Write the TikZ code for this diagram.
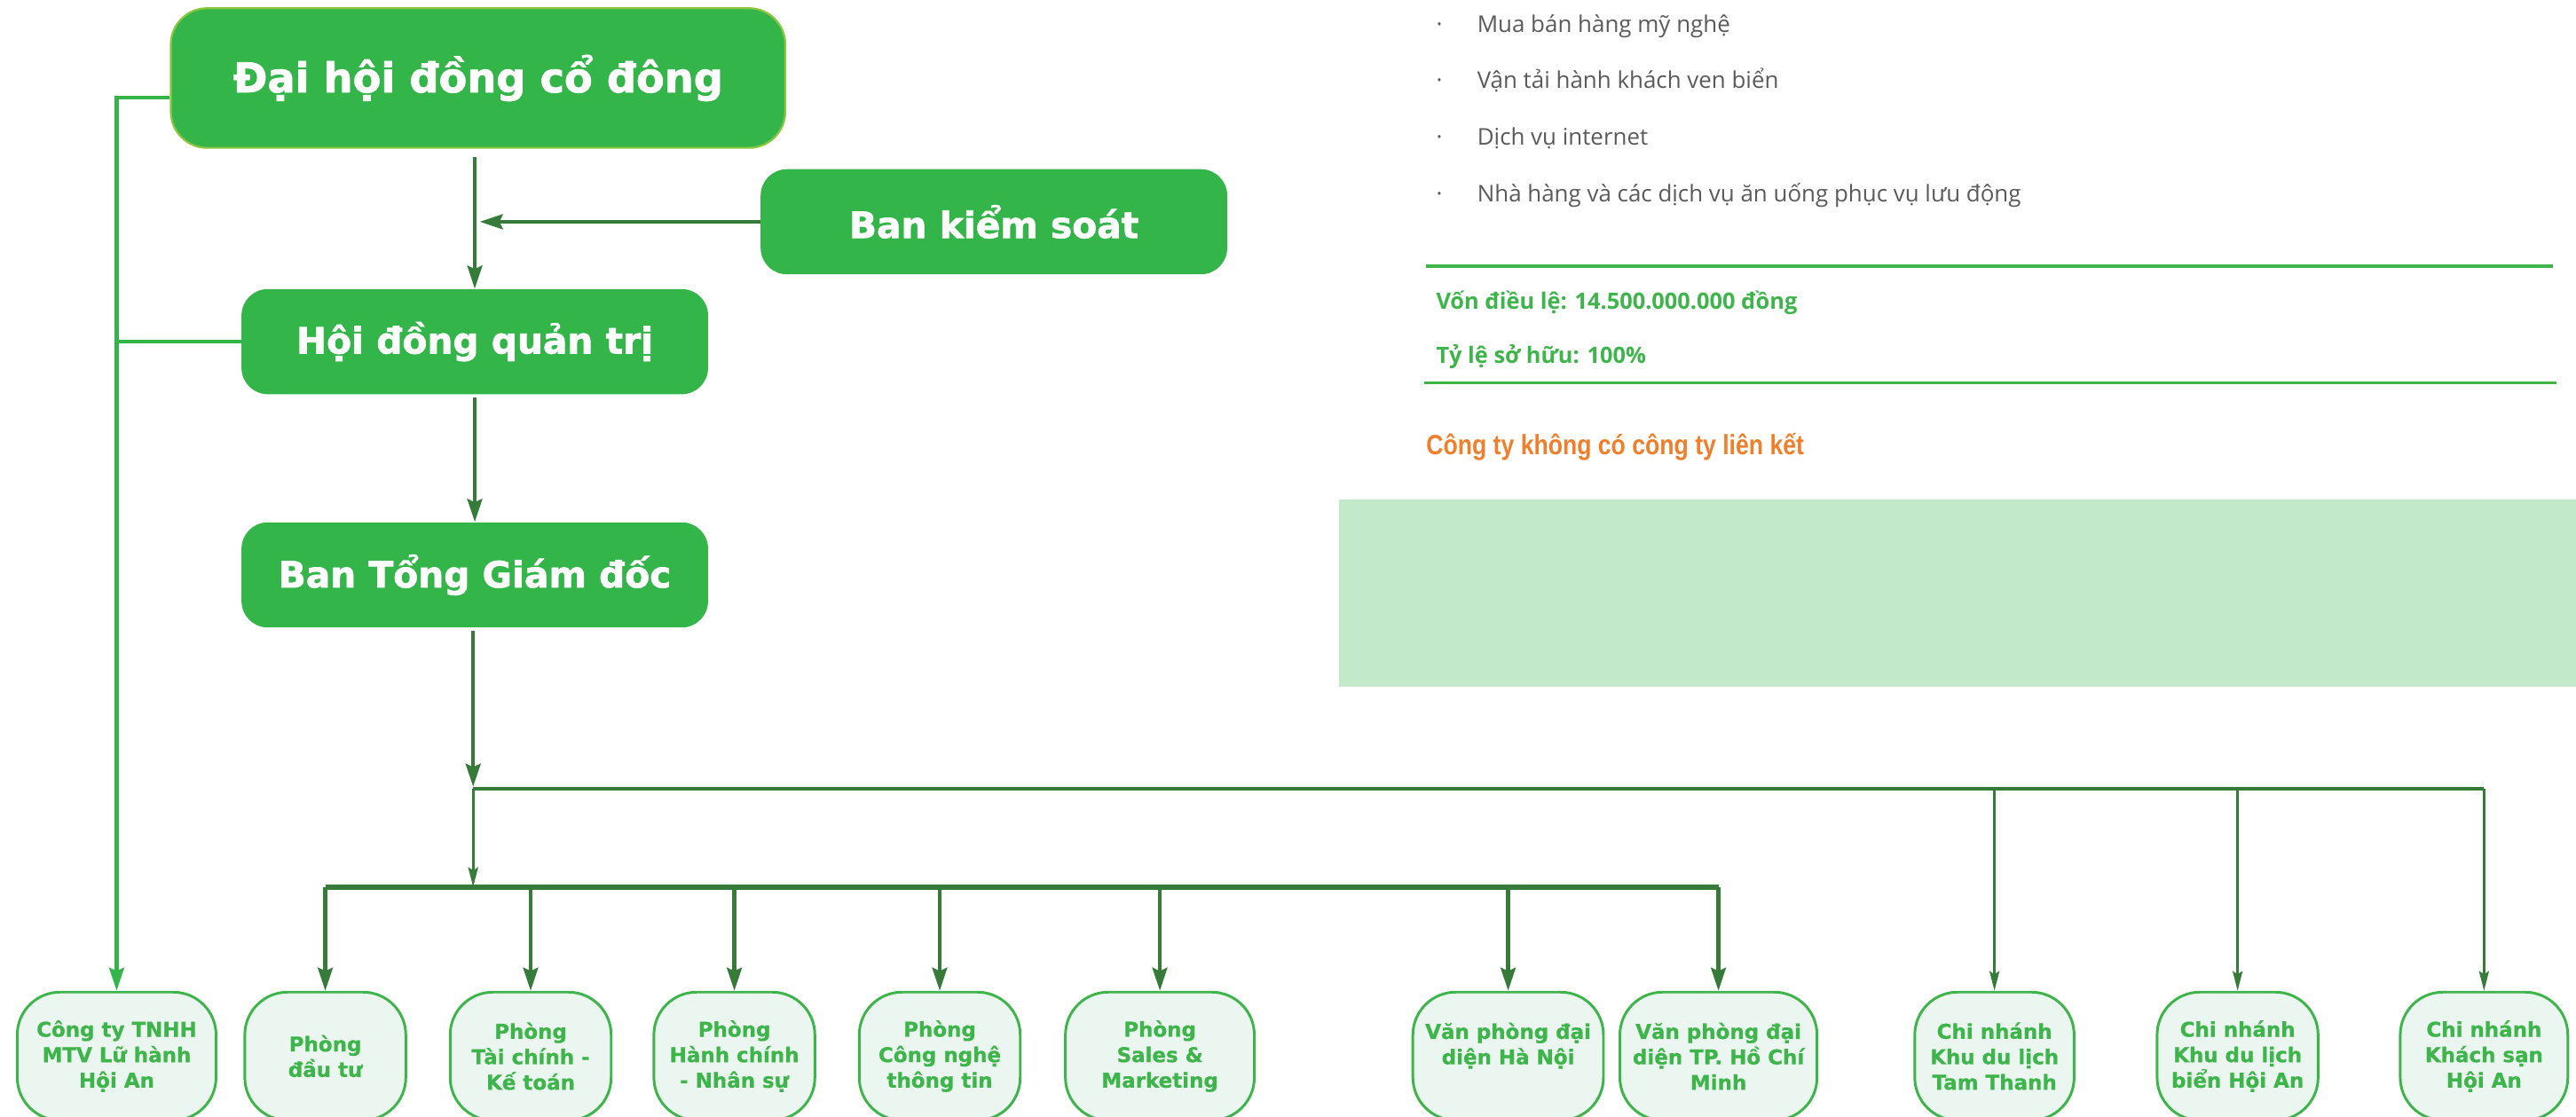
\documentclass[tikz,border=0pt]{standalone}
\usepackage{fontspec}
\setmainfont{DejaVu Sans}
\newfontfamily\heavyfont{DejaVu Sans}[UprightFont={* Bold}, FakeBold=1.6]
\newfontfamily\medfont{DejaVu Sans}[UprightFont={* Bold}, FakeBold=0.6]
\newfontfamily\listfont{Open Sans}
\newfontfamily\arialfont{Liberation Sans}
\usetikzlibrary{arrows.meta,calc}
\definecolor{gfill}{HTML}{33B54A}
\definecolor{gdark}{HTML}{367B3A}
\definecolor{gedge}{HTML}{8DC63F}
\definecolor{lfill}{HTML}{EBF6F0}
\definecolor{lborder}{HTML}{3DB54A}
\definecolor{panel}{HTML}{C2E9CA}
\definecolor{orangetxt}{HTML}{F07E2A}
\definecolor{graytxt}{HTML}{5A5A5A}
\begin{document}
\begin{tikzpicture}[x=1pt,y=-1pt,
  topbox/.style={fill=gfill, rounded corners=16pt, text=white, inner sep=0pt,
    font=\heavyfont\fontsize{22}{26}\selectfont, minimum width=284pt, minimum height=64pt},
  botbox/.style={fill=lfill, draw=lborder, line width=1.6pt, rounded corners=26pt,
    text=lborder, font=\medfont\fontsize{12.4}{15.5}\selectfont, align=center,
    inner sep=0pt, minimum height=78pt},
  conn/.style={draw=gdark, line width=2.4pt},
  thinconn/.style={draw=gdark, line width=1.5pt},
  bigtip/.style={-{Stealth[length=14pt,width=9pt,inset=2pt]}},
  smalltip/.style={-{Stealth[length=12pt,width=6pt,inset=2pt]}},
  listtxt/.style={anchor=base west, inner sep=0pt, text=graytxt, font=\listfont\fontsize{14}{16}\selectfont},
  infotxt/.style={anchor=base west, inner sep=0pt, text=lborder, font=\listfont\bfseries\fontsize{13.7}{16}\selectfont},
]
\useasboundingbox (0,0) rectangle (1568,680);
\clip (0,0) rectangle (1568,680);

% right panel
\fill[panel] (815,304) rectangle (1568,418);
\draw[lborder, line width=2pt] (868,162) -- (1554,162);
\draw[lborder, line width=2pt] (867,233) -- (1556,233);

\foreach \y/\n in {19.5/1,54/2,88.5/3,123/4}{
  \node[listtxt] (bul\n) at (874,\y) {·};
}
\node[listtxt] (l1) at (899,19.5) {Mua bán hàng mỹ nghệ};
\node[listtxt] (l2) at (899,54) {Vận tải hành khách ven biển};
\node[listtxt] (l3) at (899,88.5) {Dịch vụ internet};
\node[listtxt] (l4) at (899,123) {Nhà hàng và các dịch vụ ăn uống phục vụ lưu động};
\node[infotxt] (von) at (874,188) {Vốn điều lệ: 14.500.000.000 đồng};
\node[infotxt] (tyle) at (874,221) {Tỷ lệ sở hữu: 100\%};
\node[anchor=base west, inner sep=0pt, text=orangetxt, font=\arialfont\bfseries\fontsize{17}{20}\selectfont]
  (nolink) at (868,277) {\scalebox{0.845}[1]{Công ty không có công ty liên kết}};

% top boxes
\node[topbox, minimum width=374pt, minimum height=85pt, draw=gedge, line width=1.2pt,
  rounded corners=22pt, font=\heavyfont\fontsize{25}{30}\selectfont] (dh) at (291,47.5) {Đại hội đồng cổ đông};
\node[topbox] (bks) at (605,135) {Ban kiểm soát};
\node[topbox] (hd) at (289,208) {Hội đồng quản trị};
\node[topbox] (btgd) at (289,350) {Ban Tổng Giám đốc};

% bottom boxes
\node[botbox, minimum width=121pt] (ct) at (71,643) {Công ty TNHH\\MTV Lữ hành\\Hội An};
\node[botbox, minimum width=98pt] (p1) at (198,643) {Phòng\\đầu tư};
\node[botbox, minimum width=98pt] (p2) at (323,643) {Phòng\\Tài chính -\\Kế toán};
\node[botbox, minimum width=98pt] (p3) at (447,643) {Phòng\\Hành chính\\- Nhân sự};
\node[botbox, minimum width=98pt] (p4) at (572,643) {Phòng\\Công nghệ\\thông tin};
\node[botbox, minimum width=115pt] (p5) at (706,643) {Phòng\\Sales \&\\Marketing};
\node[botbox, minimum width=116pt] (vp1) at (918,643) {Văn phòng đại\\diện Hà Nội\\\phantom{Minh}};
\node[botbox, minimum width=120pt] (vp2) at (1046,643) {Văn phòng đại\\diện TP. Hồ Chí\\Minh};
\node[botbox, minimum width=97pt] (cn1) at (1214,643) {Chi nhánh\\Khu du lịch\\Tam Thanh};
\node[botbox, minimum width=98pt] (cn2) at (1362,643) {Chi nhánh\\Khu du lịch\\biển Hội An};
\node[botbox, minimum width=102pt] (cn3) at (1512,643) {Chi nhánh\\Khách sạn\\Hội An};

% connectors
\coordinate (bus1) at (288,480);
\coordinate (bus2) at (288,540);
\coordinate (bkshit) at (292,135);
\draw[conn, bigtip, shorten <=5pt] (dh.south -| hd.north) -- (hd.north);
\draw[conn, bigtip] (bks.west) -- (bkshit);
\draw[conn, bigtip, shorten <=2pt] (hd.south) -- (btgd.north);
\draw[conn, bigtip, shorten <=2pt] (btgd.south -| bus1) -- ([yshift=1pt]bus1);
\draw[gdark, line width=2pt] (bus1) -- (bus1 -| cn3.north);
\draw[thinconn, smalltip] (bus1) -- (bus2);
\draw[gdark, line width=3pt] (bus2 -| p1.north) -- (bus2 -| vp2.north);
\foreach \n in {p1,p2,p3,p4,p5,vp1,vp2}{
  \draw[conn, bigtip] (bus2 -| \n.north) -- (\n.north);
}
\foreach \n in {cn1,cn2,cn3}{
  \draw[thinconn, smalltip] (bus1 -| \n.north) -- (\n.north);
}
\draw[draw=gfill, line width=2.4pt, bigtip] ([yshift=-12pt]dh.west) -| (ct.north);
\draw[draw=gfill, line width=2.4pt] (hd.west) -- (hd.west -| ct.north);
\end{tikzpicture}
\end{document}
